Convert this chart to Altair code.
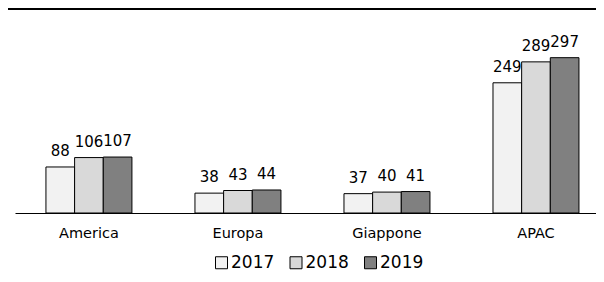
import altair as alt
import pandas as pd

regions = ["America", "Europa", "Giappone", "APAC"]
years = ["2017", "2018", "2019"]
v2017 = [88, 38, 37, 249]
v2018 = [106, 43, 40, 289]
v2019 = [107, 44, 41, 297]
colors = ["#F2F2F2", "#D9D9D9", "#808080"]

rows = []
for i, r in enumerate(regions):
    for yr, vals in zip(years, [v2017, v2018, v2019]):
        rows.append({"region": r, "year": yr, "value": vals[i]})
df = pd.DataFrame(rows)

FONT = "DejaVu Sans"

x = alt.X(
    "region:N", sort=regions,
    scale=alt.Scale(paddingInner=0.423, paddingOuter=0.161, align=0.645),
    axis=alt.Axis(title=None, labelAngle=0, labelFont=FONT, labelFontSize=14.5,
                  labelColor="#000", ticks=False, tickSize=0, labelPadding=13,
                  domainColor="#000", domainWidth=1),
)
xo = alt.XOffset("year:N", sort=years, scale=alt.Scale(paddingInner=0, paddingOuter=0))
y = alt.Y("value:Q", scale=alt.Scale(domain=[0, 392], nice=False), axis=None)

bars = alt.Chart(df).mark_bar(stroke="#000", strokeWidth=1).encode(
    x=x, xOffset=xo, y=y,
    color=alt.Color(
        "year:N", sort=years,
        scale=alt.Scale(domain=years, range=colors),
        legend=alt.Legend(
            title=None, orient="none", legendX=198, legendY=246,
            direction="horizontal", symbolType="square", symbolSize=144,
            symbolStrokeColor="#000", symbolStrokeWidth=1, symbolOpacity=1,
            labelFont=FONT, labelFontSize=17, labelColor="#000",
            labelOffset=1, columnPadding=12.5,
        ),
    ),
)

text = alt.Chart(df).mark_text(
    baseline="alphabetic", dy=-11, font=FONT, fontSize=15, color="#000"
).encode(x=x, xOffset=xo, y=y, text="value:Q")

top = alt.Chart(pd.DataFrame({"a": [0]})).mark_rule(color="#000", strokeWidth=2).encode(
    x=alt.value(-7), x2=alt.value(600), y=alt.value(1)
)

chart = (
    alt.layer(bars, text, top)
    .properties(
        width=581, height=205,
        autosize=alt.AutoSizeParams(type="none"),
        padding={"left": 7, "top": 0, "right": 0, "bottom": 61},
        background="white",
    )
    .configure_view(strokeWidth=0)
)

chart.save("out.html", embed_options={"renderer": "svg", "actions": False})
